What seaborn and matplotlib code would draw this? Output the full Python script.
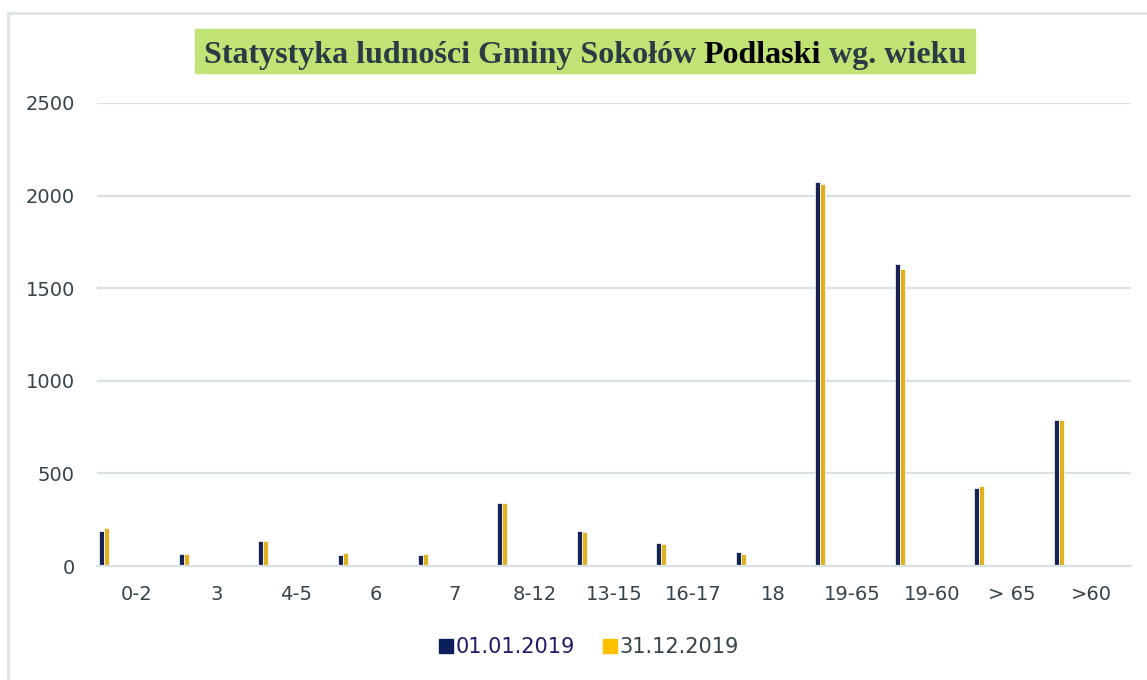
import pandas as pd
import seaborn as sns
import matplotlib.pyplot as plt
from matplotlib.lines import Line2D
from matplotlib.patches import Rectangle

age_groups = ["0-2", "3", "4-5", "6", "7", "8-12", "13-15", "16-17", "18",
              "19-65", "19-60", "> 65", ">60"]
start_2019 = [190, 65, 135, 59, 58, 340, 190, 122, 76, 2072, 1629, 420, 788]
end_2019 = [205, 63, 133, 72, 63, 340, 185, 120, 66, 2061, 1605, 432, 788]
series = ["01.01.2019", "31.12.2019"]
colors = {"01.01.2019": "#0b1f5e", "31.12.2019": "#ffc000"}

df = pd.DataFrame({
    "wiek": age_groups * 2,
    "liczba": start_2019 + end_2019,
    "data": [series[0]] * len(age_groups) + [series[1]] * len(age_groups),
})

# empty hue levels keep the two real bars narrow at the left of each slot, like the original
spare = ["_pad%d" % i for i in range(13)]
hue_order = series + spare
palette = dict(colors, **{s: "white" for s in spare})

sns.set_style("white")
plt.rcParams["font.family"] = ["DejaVu Sans"]

fig = plt.figure(figsize=(11.47, 6.8), dpi=100)
ax = fig.add_axes([97 / 1147, 1 - 566 / 680, (1131 - 97) / 1147, (566 - 103) / 680])

sns.barplot(data=df, x="wiek", y="liczba", hue="data", hue_order=hue_order,
            order=age_groups, palette=palette, width=0.94, dodge=True,
            edgecolor="white", linewidth=0.5, legend=False, ax=ax)

ax.set_ylim(0, 2500)
ax.set_xlim(-0.5, len(age_groups) - 0.5)
ax.set_yticks([0, 500, 1000, 1500, 2000, 2500])
ax.yaxis.grid(True, color="#d9e1e4", linewidth=1.6)
ax.set_axisbelow(True)
for side in ["top", "right", "left"]:
    ax.spines[side].set_visible(False)
ax.spines["bottom"].set_color("#d9e1e4")
ax.spines["bottom"].set_linewidth(1.6)
ax.tick_params(axis="x", length=0, pad=14, labelsize=14, labelcolor="#36434a")
ax.tick_params(axis="y", length=0, pad=16, labelsize=14, labelcolor="#36434a")
ax.set_xlabel("")
ax.set_ylabel("")

# legend
handles = [Line2D([], [], marker="s", linestyle="", markersize=9.5,
                  color=colors[s]) for s in series]
leg = fig.legend(handles, series, loc="center", bbox_to_anchor=(0.513, 0.048),
                 ncol=2, frameon=False, fontsize=15, handletextpad=0.05,
                 columnspacing=1.3, handlelength=0.8)
leg.get_texts()[0].set_color("#23196b")
leg.get_texts()[1].set_color("#36434a")

# frame lines of the original chart area
fig.add_artist(Line2D([8 / 1147, 1], [1 - 13 / 680, 1 - 13 / 680],
                      color="#dde5e8", linewidth=2))
fig.add_artist(Line2D([8 / 1147, 8 / 1147], [0, 1 - 13 / 680],
                      color="#dde5e8", linewidth=2))

# title with green band and one word in black
fig.add_artist(Rectangle((195 / 1147, 1 - 73 / 680), 780 / 1147, 44 / 680,
                         transform=fig.transFigure, color="#c1e275", zorder=0))
title_kw = dict(fontsize=23, fontweight="bold", family="Liberation Serif", va="baseline")
t1 = fig.text(0, 1 - 63 / 680, "Statystyka ludności Gminy Sokołów ", color="#2b3b44", **title_kw)
t2 = fig.text(0, 0, "Podlaski", color="black", **title_kw)
t3 = fig.text(0, 0, " wg. wieku", color="#2b3b44", **title_kw)
fig.canvas.draw()
r = fig.canvas.get_renderer()
w1 = t1.get_window_extent(r).width
w2 = t2.get_window_extent(r).width
w3 = t3.get_window_extent(r).width
x0 = 585 - (w1 + w2 + w3) / 2
y = t1.get_position()[1]
t1.set_position((x0 / 1147, y))
t2.set_position(((x0 + w1) / 1147, y))
t3.set_position(((x0 + w1 + w2) / 1147, y))

fig.savefig("out.png", dpi=100)
